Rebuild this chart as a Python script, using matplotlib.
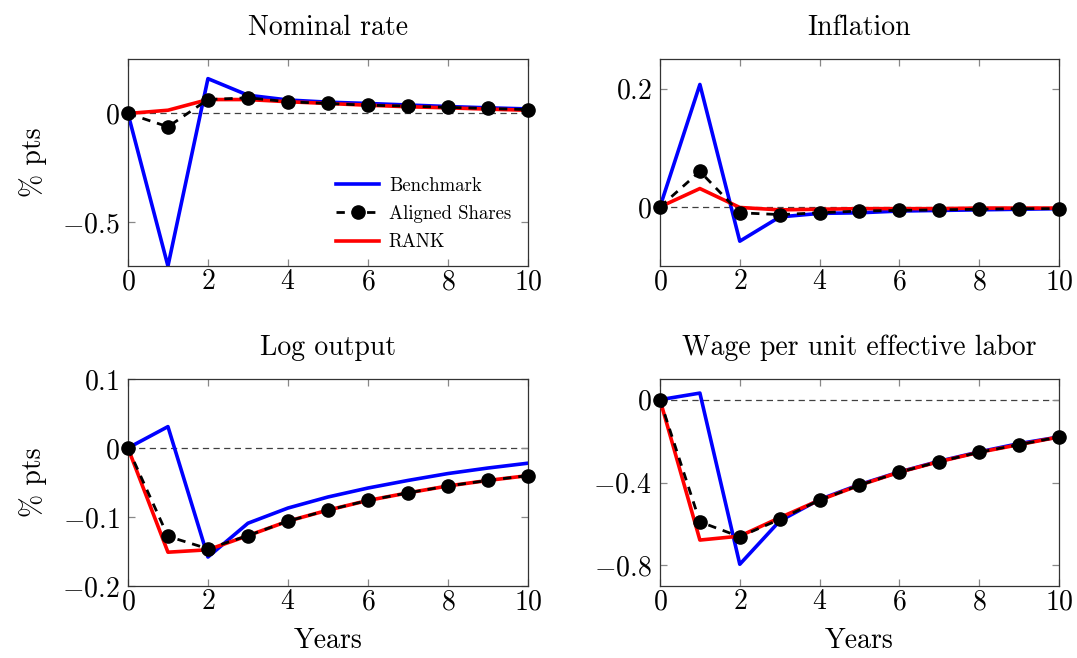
import numpy as np
import matplotlib
matplotlib.use('Agg')
import matplotlib.pyplot as plt
from matplotlib.lines import Line2D

# ─── Data ────────────────────────────────────────────────────────────
years = np.arange(0, 11)

nom_bench = [0.0, -0.70, 0.160, 0.084, 0.062, 0.052, 0.046, 0.039, 0.032, 0.026, 0.021]
nom_align = [0.0, -0.061, 0.064, 0.072, 0.054, 0.046, 0.038, 0.034, 0.028, 0.023, 0.018]
nom_rank = [0.0, 0.015, 0.064, 0.064, 0.054, 0.046, 0.038, 0.031, 0.026, 0.020, 0.015]

inf_bench = [0.0, 0.207, -0.058, -0.017, -0.011, -0.010, -0.007, -0.006, -0.005, -0.004, -0.003]
inf_align = [0.0, 0.060, -0.010, -0.013, -0.010, -0.007, -0.006, -0.005, -0.004, -0.003, -0.003]
inf_rank = [0.0, 0.031, -0.001, -0.005, -0.004, -0.003, -0.003, -0.003, -0.002, -0.002, -0.002]

out_bench = [0.0, 0.031, -0.158, -0.109, -0.087, -0.071, -0.058, -0.047, -0.037, -0.029, -0.022]
out_align = [0.0, -0.128, -0.146, -0.127, -0.106, -0.090, -0.076, -0.065, -0.055, -0.047, -0.040]
out_rank = [0.0, -0.151, -0.1475, -0.127, -0.106, -0.090, -0.076, -0.065, -0.055, -0.047, -0.040]

wage_bench = [0.0, 0.032, -0.795, -0.586, -0.482, -0.410, -0.349, -0.297, -0.252, -0.212, -0.180]
wage_align = [0.0, -0.590, -0.662, -0.578, -0.485, -0.413, -0.350, -0.299, -0.254, -0.217, -0.180]
wage_rank = [0.0, -0.678, -0.659, -0.570, -0.485, -0.413, -0.350, -0.299, -0.254, -0.217, -0.180]

titles = ['Nominal rate', 'Inflation', 'Log output', 'Wage per unit effective labor']
ylims = [(-0.7, 0.25), (-0.1, 0.25), (-0.2, 0.1), (-0.9, 0.1)]
yticks = [[-0.5, 0], [0, 0.2], [-0.2, -0.1, 0, 0.1], [-0.8, -0.4, 0]]
xticks = [0, 2, 4, 6, 8, 10]
panels = [
    (nom_bench, nom_align, nom_rank),
    (inf_bench, inf_align, inf_rank),
    (out_bench, out_align, out_rank),
    (wage_bench, wage_align, wage_rank),
]

plt.rcParams.update({
    'font.family': 'serif',
    'font.serif': ['cmr10'],
    'mathtext.fontset': 'cm',
    'axes.formatter.use_mathtext': True,
    'font.size': 20,
})

fig = plt.figure(figsize=(10.77, 6.58), dpi=100, facecolor='white')

# axes boxes in figure fractions (left, bottom, width, height)
boxes = [
    (0.1188, 0.5957, 0.3714, 0.3146),
    (0.6128, 0.5957, 0.3705, 0.3146),
    (0.1188, 0.1094, 0.3714, 0.3146),
    (0.6128, 0.1094, 0.3705, 0.3146),
]

for i, (bench, align, rank) in enumerate(panels):
    ax = fig.add_axes(boxes[i])
    ax.axhline(0, color='black', lw=0.9, ls=(0, (5, 3.5)), alpha=0.75, zorder=1)
    ax.plot(years, bench, color='blue', lw=2.6, zorder=2)
    ax.plot(years, rank, color='red', lw=2.6, zorder=3)
    ax.plot(years, align, color='black', lw=2.0, ls=(0, (3, 2.5)),
            marker='o', ms=9.5, zorder=4, clip_on=False)

    ax.set_xlim(0, 10)
    ax.set_ylim(*ylims[i])
    ax.set_xticks(xticks)
    ax.set_yticks(yticks[i])
    ax.set_yticklabels([r'$%g$' % v for v in yticks[i]])
    ax.set_xticklabels([r'$%d$' % v for v in xticks])
    ax.tick_params(direction='in', top=True, right=True, length=5,
                   color='#888888', width=0.9, labelsize=20)
    ax.tick_params(axis='y', pad=6)
    ax.tick_params(axis='x', pad=2)
    for sp in ax.spines.values():
        sp.set_linewidth(0.9)
        sp.set_color('#333333')
    ax.set_title(titles[i], fontsize=20, pad=17)

    if i % 2 == 0:
        ax.set_ylabel(r'% pts', fontsize=20, labelpad=11)
    if i >= 2:
        ax.set_xlabel('Years', fontsize=20, labelpad=9)

    if i == 0:
        handles = [
            Line2D([], [], color='blue', lw=2.6),
            Line2D([], [], color='black', lw=2.0, ls=(0, (3, 2.5)), marker='o', ms=9.5),
            Line2D([], [], color='red', lw=2.6),
        ]
        ax.legend(handles, ['Benchmark', 'Aligned Shares', 'RANK'],
                  loc='lower right', frameon=False, fontsize=13.5,
                  handlelength=2.3, handletextpad=0.5, labelspacing=0.55,
                  bbox_to_anchor=(1.0, -0.01))

fig.savefig('out.png', dpi=100, facecolor='white')
